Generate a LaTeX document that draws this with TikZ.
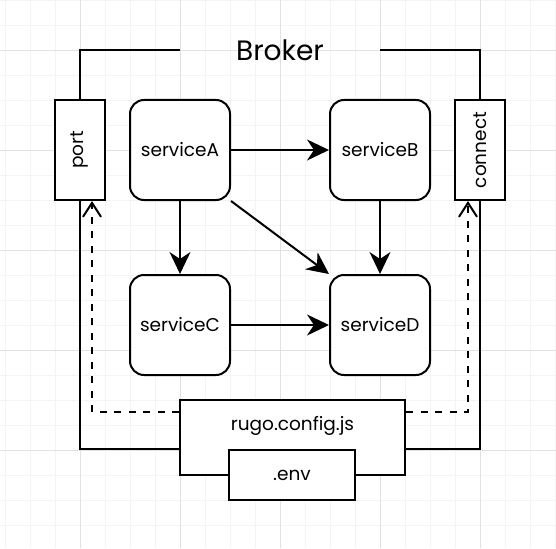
\documentclass[tikz,border=0pt]{standalone}
\usepackage{fontspec}
\setmainfont{Poppins}
\usetikzlibrary{arrows.meta}
\definecolor{gridminor}{HTML}{F4F4F4}
\definecolor{gridmajor}{HTML}{E2E2E2}

\begin{document}
\begin{tikzpicture}[x=1pt,y=-1pt,
  box/.style={draw=black, line width=2pt, fill=white, inner sep=0pt,
    minimum width=100pt, minimum height=100pt, font=\fontsize{18.5}{22}\selectfont},
  service/.style={box, rounded corners=14pt},
  side/.style={box, minimum width=50pt},
  flow/.style={line width=2pt, -{Stealth[length=22pt,width=21pt,inset=7pt]}},
  dashflow/.style={line width=2pt, dash pattern=on 7pt off 7.5pt,
    -{Straight Barb[length=14pt,width=18pt]}},
  frame/.style={line width=2pt}]
%\draw[help lines] (0,0) grid (556,548);
\fill[white] (0,0) rectangle (556,548);
\useasboundingbox (0,0) rectangle (556,548);
\foreach \x in {5,30,...,555} \draw[gridminor] (\x,0) -- (\x,548);
\foreach \y in {0,25,...,548} \draw[gridminor] (0,\y) -- (556,\y);
\foreach \x in {80,180,...,480} \draw[gridmajor] (\x,0) -- (\x,548);
\foreach \y in {50,150,...,450} \draw[gridmajor] (0,\y) -- (556,\y);

\node[font=\fontsize{28}{32}\selectfont] (broker) at (280,50) {Broker};
\coordinate (brokerL) at (180,50);
\coordinate (brokerR) at (380,50);

\node[side] (port) at (80,150) {\rotatebox{90}{port}};
\node[side] (connect) at (480,150) {\rotatebox{90}{connect}};

\node[service] (serviceA) at (180,150) {serviceA};
\node[service] (serviceB) at (380,150) {serviceB};
\node[service] (serviceC) at (180,325) {serviceC};
\node[service] (serviceD) at (380,325) {serviceD};

\node[box, minimum width=225pt, minimum height=75pt] (config) at (292.5,437.5) {};
\node[font=\fontsize{18.5}{22}\selectfont] (configtext) at (292.5,426) {rugo.config.js};
\node[box, minimum width=126pt, minimum height=50pt] (env) at (292,475) {.env};

\coordinate (dashL) at (92,412);
\coordinate (dashR) at (468,412);

\draw[frame] (brokerL) -| (port.north);
\draw[frame] (brokerR) -| (connect.north);
\draw[frame] (port.south) |- (config.west |- env.north);
\draw[frame] (connect.south) |- (config.east |- env.north);

\draw[dashflow] (config.west |- dashL) -| (port.south -| dashL);
\draw[dashflow] (config.east |- dashR) -| (connect.south -| dashR);

\draw[flow] (serviceA.east) -- (serviceB.west);
\draw[flow] (serviceA.south) -- (serviceC.north);
\draw[flow] (serviceA.south east) -- (serviceD.north west);
\draw[flow] (serviceB.south) -- (serviceD.north);
\draw[flow] (serviceC.east) -- (serviceD.west);
\end{tikzpicture}
\end{document}
